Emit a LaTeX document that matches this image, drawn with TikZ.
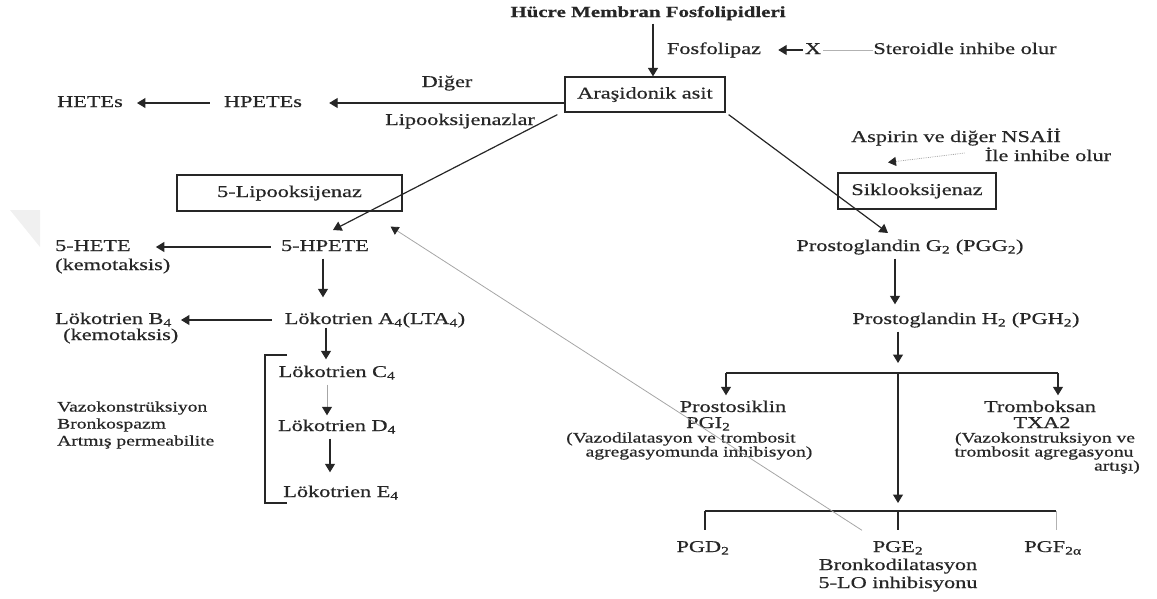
\documentclass[tikz,border=0pt]{standalone}
\usepackage{fontspec}
\setmainfont{Liberation Serif}[FakeStretch=1.35,FakeBold=0.6]
\usetikzlibrary{arrows.meta}
\begin{document}
\begin{tikzpicture}[x=1pt,y=-1pt,
  t/.style={inner sep=0pt, text height=11.5pt, text depth=3.5pt, font=\fontsize{16.5}{18}\selectfont, text=black!85},
  ts/.style={inner sep=0pt, text height=10pt, text depth=3pt, font=\fontsize{14.5}{16}\selectfont, text=black!85},
  bx/.style={draw=black!85, line width=1.2pt, inner sep=0pt},
  arr/.style={-{Triangle[length=8.5pt,width=10pt]}, draw=black!85, line width=1.2pt},
  garr/.style={-{Triangle[length=8pt,width=9pt,color=black!85]}, draw=gray!70, line width=0.8pt},
  ln/.style={draw=black!85, line width=1.2pt},
  gln/.style={draw=gray!60, line width=0.9pt}]
\useasboundingbox (0,0) rectangle (1157,598);
\fill[gray!12] (10,210) -- (40,210) -- (40,247) -- cycle;

% top
\node[t, font=\bfseries\fontsize{15.5}{18}\selectfont] (hucre) at (648,13) {Hücre Membran Fosfolipidleri};
\node[t] (fosfo) at (714,50) {Fosfolipaz};
\node[t] (xmark) at (813,50) {X};
\node[t] (stero) at (965,50) {Steroidle inhibe olur};
\node[bx, minimum width=160pt, minimum height=35pt] (aras) at (645,94.5) {};
\node[t] at (aras.center) {Araşidonik asit};
\node[t] (diger) at (447,83) {Diğer};
\node[t] (lipoz) at (460,121) {Lipooksijenazlar};
\node[t] (hpetes) at (263,103) {HPETEs};
\node[t] (hetes) at (90,103) {HETEs};

\draw[arr] ([xshift=5pt,yshift=-3pt]hucre.south) -- ([xshift=8pt]aras.north);
\draw[gln] (stero.west) -- ([xshift=2pt]xmark.east);
\draw[arr, shorten <=2pt, shorten >=17pt] (xmark.west) -- (fosfo.east);
\draw[arr, shorten >=27pt] (aras.west |- hpetes.east) -- (hpetes.east);
\draw[arr, shorten <=14pt, shorten >=14pt] (hpetes.west) -- (hetes.east);

% 5-lipooksijenaz branch
\node[bx, minimum width=225pt, minimum height=36pt] (lipo5) at (289.5,193) {};
\node[t] at (lipo5.center) {5-Lipooksijenaz};
\node[t] (hpete5) at (325,247) {5-HPETE};
\node[t, anchor=west] (hete5) at (55,247) {5-HETE};
\node[t, anchor=west] (kemo1) at (55,266) {(kemotaksis)};
\node[t] (lta4) at (375,320) {Lökotrien A\textsubscript{4}(LTA\textsubscript{4})};
\node[t, anchor=west] (ltb4) at (55,320) {Lökotrien B\textsubscript{4}};
\node[t, anchor=west] (kemo2) at (63,336) {(kemotaksis)};
\node[t] (ltc4) at (337,373) {Lökotrien C\textsubscript{4}};
\node[t] (ltd4) at (337,427) {Lökotrien D\textsubscript{4}};
\node[t] (lte4) at (341,493) {Lökotrien E\textsubscript{4}};
\node[ts, anchor=west] (vazo) at (57,408) {Vazokonstrüksiyon};
\node[ts, anchor=west] (bronk) at (57,425) {Bronkospazm};
\node[ts, anchor=west] (artm) at (57,442) {Artmış permeabilite};

\draw[arr] ([xshift=-7pt,yshift=-2pt]aras.south west) -- ([xshift=8pt,yshift=17pt]hpete5.center);
\draw[arr, shorten <=10pt, shorten >=25pt] (hpete5.west) -- (hpete5.west -| hete5.east);
\draw[arr, shorten <=4pt, shorten >=15pt] ([xshift=-2pt]hpete5.south) -- ([xshift=-2pt]hpete5.south |- lta4.north);
\draw[arr, shorten <=13pt, shorten >=9pt] (lta4.west) -- (lta4.west -| ltb4.east);
\draw[arr, shorten >=6pt] ([xshift=-49pt]lta4.south) -- ([xshift=-11pt]ltc4.north);
\draw[-{Triangle[length=8.5pt,width=10pt,color=black!85]}, draw=gray!70, line width=1pt, shorten <=4pt, shorten >=4pt] ([xshift=-10pt]ltc4.south) -- ([xshift=-10pt]ltd4.north);
\draw[arr, shorten <=4pt, shorten >=13pt] ([xshift=-7pt]ltd4.south) -- ([xshift=-11pt]lte4.north);
\draw[ln] (287,355) -- (265,355) -- (265,503) -- (287,503);

% cyclooxygenase branch
\node[t] (aspirin) at (956,138) {Aspirin ve diğer NSAİİ};
\node[t] (ile) at (1048,157) {İle inhibe olur};
\node[bx, minimum width=158pt, minimum height=36pt] (siklo) at (917,191) {};
\node[t] at (siklo.center) {Siklooksijenaz};
\node[t] (pgg2) at (910,247) {Prostoglandin G\textsubscript{2} (PGG\textsubscript{2})};
\node[t] (pgh2) at (966,320) {Prostoglandin H\textsubscript{2} (PGH\textsubscript{2})};

\draw[arr] ([xshift=3pt,yshift=-2pt]aras.south east) -- ([xshift=-22pt,yshift=14pt]pgg2.center);
\draw[garr, densely dotted] ([xshift=-20pt,yshift=4pt]ile.west) -- ([xshift=-29pt,yshift=10pt]siklo.north);
\draw[arr, shorten <=4pt, shorten >=8pt] ([xshift=-15pt]pgg2.south) -- ([xshift=-15pt]pgg2.south |- pgh2.north);

\coordinate (j1) at (898,373);
\coordinate (j1l) at (726,373);
\coordinate (j1r) at (1058,373);
\coordinate (j2) at (898,511);
\coordinate (j2l) at (705,511);
\coordinate (j2r) at (1056,511);

\node[t] (prosto) at (733,408) {Prostosiklin};
\node[t, anchor=west] (pgi2) at (686,424) {PGI\textsubscript{2}};
\node[ts] (vazod) at (681,439) {(Vazodilatasyon ve trombosit};
\node[ts] (agreg) at (699,453) {agregasyomunda inhibisyon)};
\node[t] (trombo) at (1040,408) {Tromboksan};
\node[t] (txa2) at (1042,424) {TXA2};
\node[ts] (vazok) at (1045,439) {(Vazokonstruksiyon ve};
\node[ts] (tromb2) at (1044,453) {trombosit agregasyonu};
\node[ts, anchor=east] (artisi) at (1140,467) {artışı)};

\node[t] (pgd2) at (703,548) {PGD\textsubscript{2}};
\node[t] (pge2) at (898,548) {PGE\textsubscript{2}};
\node[t] (bronko) at (898,566) {Bronkodilatasyon};
\node[t] (lo5) at (898,584) {5-LO inhibisyonu};
\node[t] (pgf2) at (1053,548) {PGF\textsubscript{2α}};

\draw[arr, shorten <=4pt] ([xshift=-68pt]pgh2.south) -- ([yshift=10pt]j1);
\draw[ln] (j1l) -- (j1r);
\draw[arr, shorten >=5pt] (j1l) -- (j1l |- prosto.north);
\draw[arr, shorten >=5pt] (j1r) -- (j1r |- trombo.north);
\draw[arr] (j1) -- ([yshift=8pt]j2);
\draw[ln] (j2l) -- (j2r);
\draw[ln, shorten >=10pt] (j2l) -- (j2l |- pgd2.north);
\draw[ln, shorten >=10pt] (j2) -- (pge2.north);
\draw[gln, shorten >=10pt] (j2r) -- (j2r |- pgf2.north);

\draw[garr] ([xshift=-36pt,yshift=10pt]pge2.north) -- ([xshift=-12pt,yshift=-15pt]lipo5.south east);
\end{tikzpicture}
\end{document}
